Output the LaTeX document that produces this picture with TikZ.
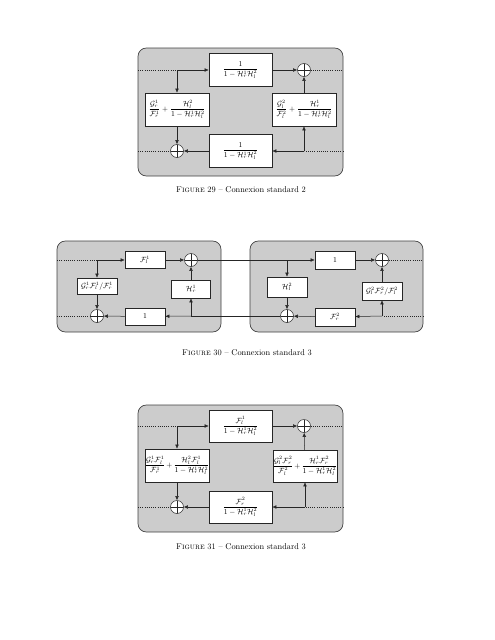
\documentclass[tikz,border=0pt]{standalone}
\usepackage{amsmath}
\usepackage{tikz}
\usetikzlibrary{positioning,arrows.meta,calc}
\newcommand{\colorbg}{black!20}
\newcommand{\colorfr}{black!75}
\newcommand{\colorln}{black!85}
\tikzset{%
  arrow/.style  = { -{Latex[length=5pt,width=4.5pt]}, semithick, draw = \colorln },
  wire/.style   = { semithick, draw = \colorln },
  dots/.style   = { dotted, semithick, draw = \colorln },
  panel/.style  = { fill = \colorbg, draw = \colorfr, thick, rounded corners = 10pt },
  tbox/.style   = { fill = white, draw = \colorln, semithick, align = center, inner sep = 0pt,
    text width = #1, font = \small },
  sumnode/.style = { circle, fill = white, draw = \colorln, semithick, minimum size = 15.6pt, inner sep = 0pt,
    path picture = {\draw[semithick] (path picture bounding box.north) -- (path picture bounding box.south)
      (path picture bounding box.west) -- (path picture bounding box.east);} },
  caption/.style = { font = \normalsize },
}
\newcommand{\Hr}{\mathcal{H}_r^1}
\newcommand{\Hl}{\mathcal{H}_l^2}
\newcommand{\den}{1-\Hr\Hl}
\newcommand{\figname}[1]{\textsc{Figure}~#1~--~Connexion standard}

\begin{document}
\begin{tikzpicture}[x=1.2pt, y=-1.2pt]
    \useasboundingbox (0,0) rectangle (495,640);
    % figure 29 -------------------------------------------------------------------------------------
    \draw[panel] (138,48) rectangle (343,176);
    \node(t1) [tbox=75.6pt, minimum height=39.6pt] at (240.5,70) {$\dfrac{1}{\den}$};
    \node(s1) [sumnode]                           at (304,70)   {};
    \node(l1) [tbox=76.8pt, minimum height=39.6pt] at (177,109.5) {$\dfrac{\mathcal{G}_r^1}{\mathcal{F}_r^1}+\dfrac{\Hl}{\den}$};
    \node(r1) [tbox=76.8pt, minimum height=39.6pt] at (304,109.5) {$\dfrac{\mathcal{G}_l^2}{\mathcal{F}_l^2}+\dfrac{\Hr}{\den}$};
    \node(b1) [tbox=75.6pt, minimum height=39.6pt] at (240.5,151) {$\dfrac{1}{\den}$};
    \node(s2) [sumnode]                           at (177,151)  {};
    \coordinate (w1) at (138,70);
    \coordinate (e1) at (343,70);
    \coordinate (w2) at (138,151);
    \coordinate (e2) at (343,151);
    \coordinate (c1) at (177,70);
    \coordinate (c2) at (304,151);
    % arrows
    \draw[dots]  (w1) -- (c1);
    \draw[arrow] (c1) -- (t1);
    \draw[arrow] (t1) -- (s1);
    \draw[dots]  (s1) -- (e1);
    \draw[arrow] (c1) -- (l1);
    \draw[arrow] (l1) -- (s2);
    \draw[dots]  (w2) -- (s2);
    \draw[arrow] (b1) -- (s2);
    \draw[dots]  (e2) -- (c2);
    \draw[arrow] (c2) -- (b1);
    \draw[arrow] (c2) -- (r1);
    \draw[arrow] (r1) -- (s1);
    \node(cap1) [caption] at (241,190) {\figname{29} 2};
    % figure 30 -------------------------------------------------------------------------------------
    \draw[panel] (57,241) rectangle (221,332);
    \draw[panel] (250,241) rectangle (423,332);
    % left panel
    \node(fl1) [tbox=48pt, minimum height=20.4pt] at (145,260)   {$\mathcal{F}_l^1$};
    \node(sa1) [sumnode]                         at (191,260)   {};
    \node(gl1) [tbox=48pt, minimum height=19.2pt] at (97,286)    {$\mathcal{G}_r^1\mathcal{F}_l^1/\mathcal{F}_r^1$};
    \node(hr1) [tbox=47pt, minimum height=21.6pt] at (191,289)   {$\Hr$};
    \node(sb1) [sumnode]                         at (97,316)    {};
    \node(on1) [tbox=48pt, minimum height=20.4pt] at (145,316.5) {$1$};
    \coordinate (wa) at (57,260);
    \coordinate (wb) at (57,316);
    \coordinate (ca) at (97,260);
    \coordinate (cb) at (191,316);
    % right panel
    \node(on2) [tbox=48pt, minimum height=22pt]   at (335,260)   {$1$};
    \node(sa2) [sumnode]                         at (382,260)   {};
    \node(hl2) [tbox=48pt, minimum height=24pt]   at (287,287)   {$\Hl$};
    \node(gr2) [tbox=48pt, minimum height=21.6pt] at (382,291)   {$\mathcal{G}_l^2\mathcal{F}_r^2/\mathcal{F}_l^2$};
    \node(sb2) [sumnode]                         at (287,316)   {};
    \node(fr2) [tbox=48pt, minimum height=22pt]   at (335,317)   {$\mathcal{F}_r^2$};
    \coordinate (ea) at (423,260);
    \coordinate (eb) at (423,316);
    \coordinate (cc) at (287,260);
    \coordinate (cd) at (382,316);
    % arrows
    \draw[dots]  (wa) -- (ca);
    \draw[arrow] (ca) -- (fl1);
    \draw[arrow] (fl1) -- (sa1);
    \draw[arrow] (ca) -- (gl1);
    \draw[arrow] (gl1) -- (sb1);
    \draw[dots]  (wb) -- (sb1);
    \draw[arrow] (on1) -- (sb1);
    \draw[arrow] (cb) -- (on1);
    \draw[arrow] (cb) -- (hr1);
    \draw[arrow] (hr1) -- (sa1);
    \draw[wire]  (sa1) -- (cc);
    \draw[arrow] (cc) -- (on2);
    \draw[arrow] (cc) -- (hl2);
    \draw[arrow] (hl2) -- (sb2);
    \draw[arrow] (on2) -- (sa2);
    \draw[dots]  (sa2) -- (ea);
    \draw[dots]  (eb) -- (cd);
    \draw[arrow] (cd) -- (fr2);
    \draw[arrow] (cd) -- (gr2);
    \draw[arrow] (gr2) -- (sa2);
    \draw[arrow] (fr2) -- (sb2);
    \draw[wire]  (sb2) -- (cb);
    \node(cap2) [caption] at (247,353) {\figname{30} 3};
    % figure 31 -------------------------------------------------------------------------------------
    \draw[panel] (138,405) rectangle (343,532);
    \node(t3) [tbox=75.6pt, minimum height=38.4pt] at (240.5,426) {$\dfrac{\mathcal{F}_l^1}{\den}$};
    \node(s3) [sumnode]                           at (304,426)   {};
    \node(l3) [tbox=76.8pt, minimum height=39.6pt] at (177,465.5) {$\dfrac{\mathcal{G}_r^1\mathcal{F}_l^1}{\mathcal{F}_r^1}+\dfrac{\Hl\mathcal{F}_l^1}{\den}$};
    \node(r3) [tbox=76.8pt, minimum height=38.4pt] at (305,466)   {$\dfrac{\mathcal{G}_l^2\mathcal{F}_r^2}{\mathcal{F}_l^2}+\dfrac{\Hr\mathcal{F}_r^2}{\den}$};
    \node(b3) [tbox=75.6pt, minimum height=38.4pt] at (240.5,507) {$\dfrac{\mathcal{F}_r^2}{\den}$};
    \node(s4) [sumnode]                           at (177,507)   {};
    \coordinate (w3) at (138,426);
    \coordinate (e3) at (343,426);
    \coordinate (w4) at (138,507);
    \coordinate (e4) at (343,507);
    \coordinate (c3) at (177,426);
    \coordinate (c4) at (305,507);
    % arrows
    \draw[dots]  (w3) -- (c3);
    \draw[arrow] (c3) -- (t3);
    \draw[arrow] (t3) -- (s3);
    \draw[dots]  (s3) -- (e3);
    \draw[arrow] (c3) -- (l3);
    \draw[arrow] (l3) -- (s4);
    \draw[dots]  (w4) -- (s4);
    \draw[arrow] (b3) -- (s4);
    \draw[dots]  (e4) -- (c4);
    \draw[arrow] (c4) -- (b3);
    \draw[arrow] (c4) -- (r3);
    \draw[arrow] (r3) -- (s3);
    \node(cap3) [caption] at (241,547) {\figname{31} 3};
\end{tikzpicture}
\end{document}
